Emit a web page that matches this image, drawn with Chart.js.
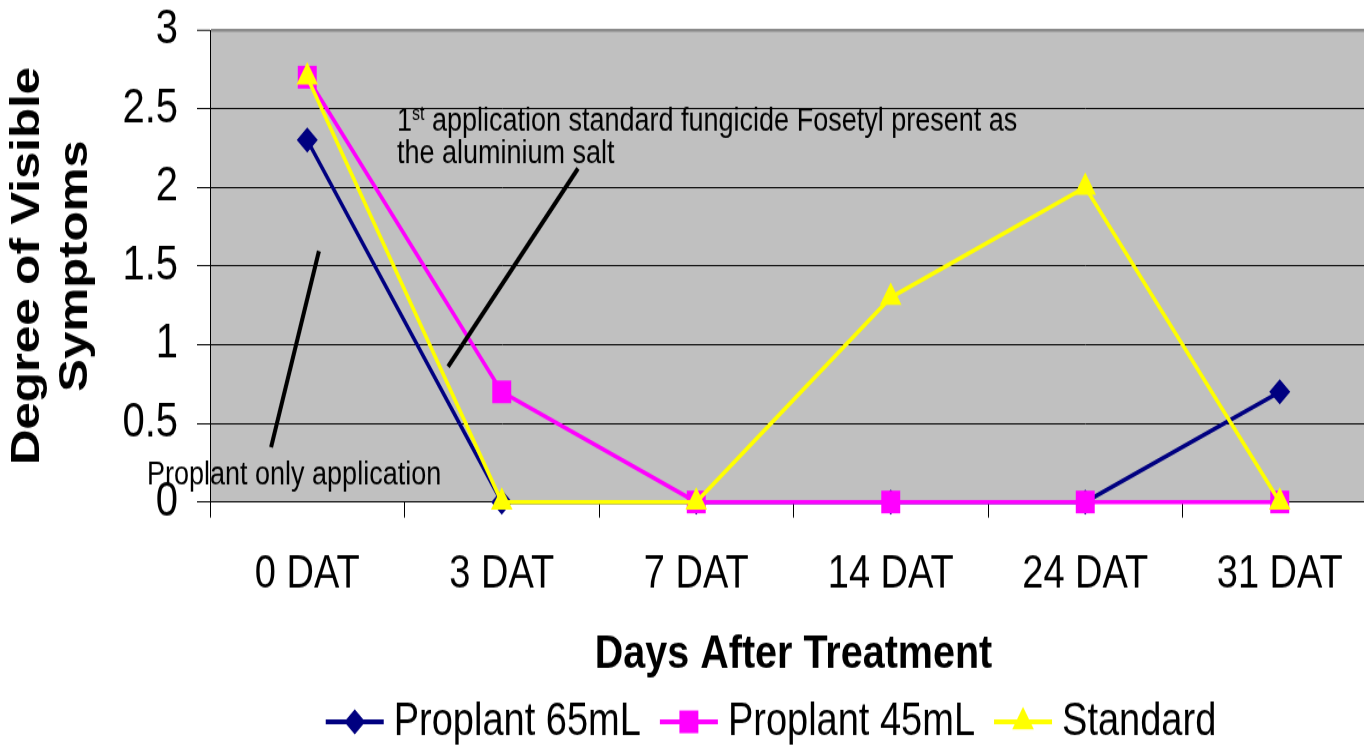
<!DOCTYPE html>
<html><head><meta charset="utf-8">
<script src="https://cdn.jsdelivr.net/npm/chart.js@4.4.1/dist/chart.umd.min.js"></script>
<style>
html,body{margin:0;padding:0;overflow:hidden;background:#fff;width:1364px;height:747px}
#wrap{width:1542px;height:623px;transform:scaleY(1.19904);transform-origin:0 0}
canvas{display:block}
</style>
</head><body><div id="wrap"><canvas id="c" width="1542" height="623"></canvas></div>
<script>
const categories = ['0 DAT', '3 DAT', '7 DAT', '14 DAT', '24 DAT', '31 DAT'];
const proplant65 = [2.3, 0, 0, 0, 0, 0.7];
const proplant45 = [2.7, 0.7, 0, 0, 0, 0];
const standard = [2.7, 0, 0, 1.3, 2.0, 0];
const yTicks = [0, 0.5, 1, 1.5, 2, 2.5, 3];
const seriesNames = ['Proplant 65mL', 'Proplant 45mL', 'Standard'];
const seriesColors = ['#000080', '#FF00FF', '#FFFF00'];
const seriesMarkers = ['rectRot', 'rect', 'triangle'];
const markerRadius = [10.5, 13.4, 12.5];
const xTitle = 'Days After Treatment';
const yTitle = ['Degree of Visible', 'Symptoms'];

// annotations placed in data coordinates (category index, value)
const noteLines = [
  {x1: 0.724, y1: 0.86, x2: 1.392, y2: 2.12},
  {x1: -0.186, y1: 0.348, x2: 0.06, y2: 1.595}
];
const noteTexts = [
  {x: 0.461, y: 2.42, main: '1', sup: 'st', rest: ' application standard fungicide Fosetyl present as'},
  {x: 0.461, y: 2.21, main: 'the aluminium salt'},
  {x: -0.824, y: 0.165, main: 'Proplant only application'}
];

const FONT = "'Liberation Sans', Arial, sans-serif";
Chart.defaults.font.family = FONT;
Chart.defaults.color = '#000';

const seriesData = [proplant65, proplant45, standard];

function drawMarker(ctx, style, x, y, r, color) {
  ctx.save();
  ctx.fillStyle = color;
  ctx.beginPath();
  if (style === 'rectRot') {
    ctx.moveTo(x - r, y); ctx.lineTo(x, y - r); ctx.lineTo(x + r, y); ctx.lineTo(x, y + r);
  } else if (style === 'rect') {
    const s = r * Math.SQRT1_2;
    ctx.rect(x - s, y - s, 2 * s, 2 * s);
  } else {
    const a = 2 * Math.PI / 3;
    ctx.moveTo(x, y - r);
    ctx.lineTo(x + Math.sin(a) * r, y - Math.cos(a) * r);
    ctx.lineTo(x + Math.sin(2 * a) * r, y - Math.cos(2 * a) * r);
  }
  ctx.closePath();
  ctx.fill();
  ctx.restore();
}

const bgPlugin = {
  id: 'bg',
  beforeDraw(chart) {
    const {ctx, chartArea: a} = chart;
    ctx.save();
    ctx.fillStyle = '#C0C0C0';
    ctx.fillRect(a.left, a.top, a.right - a.left, a.bottom - a.top);
    ctx.restore();
  }
};

const notesPlugin = {
  id: 'notes',
  afterDraw(chart) {
    const {ctx} = chart;
    const xs = chart.scales.x, ys = chart.scales.y;
    ctx.save();
    ctx.strokeStyle = '#000';
    ctx.lineWidth = 4;
    ctx.lineCap = 'butt';
    noteLines.forEach(l => {
      ctx.beginPath();
      ctx.moveTo(xs.getPixelForValue(l.x1), ys.getPixelForValue(l.y1));
      ctx.lineTo(xs.getPixelForValue(l.x2), ys.getPixelForValue(l.y2));
      ctx.stroke();
    });
    ctx.fillStyle = '#000';
    ctx.textBaseline = 'middle';
    ctx.textAlign = 'left';
    noteTexts.forEach(t => {
      let x = xs.getPixelForValue(t.x);
      const y = ys.getPixelForValue(t.y);
      ctx.font = '27px ' + FONT;
      ctx.fillText(t.main, x, y);
      x += ctx.measureText(t.main).width;
      if (t.sup) {
        ctx.font = '16px ' + FONT;
        ctx.fillText(t.sup, x, y - 6);
        x += ctx.measureText(t.sup).width;
        ctx.font = '27px ' + FONT;
        ctx.fillText(t.rest, x, y);
      }
    });
    ctx.restore();
  }
};

const legendPlugin = {
  id: 'myLegend',
  afterDraw(chart) {
    const {ctx} = chart;
    const lineW = 58, gapText = 10, gapItem = 19;
    ctx.save();
    ctx.font = '38px ' + FONT;
    const widths = seriesNames.map(n => ctx.measureText(n).width);
    const total = widths.reduce((s, w) => s + lineW + gapText + w, 0) + gapItem * (seriesNames.length - 1);
    let x = chart.width / 2 - total / 2;
    const y = 602;
    ctx.textBaseline = 'middle';
    ctx.textAlign = 'left';
    seriesNames.forEach((n, i) => {
      ctx.strokeStyle = seriesColors[i];
      ctx.lineWidth = 4;
      ctx.beginPath();
      ctx.moveTo(x, y); ctx.lineTo(x + lineW, y); ctx.stroke();
      drawMarker(ctx, seriesMarkers[i], x + lineW / 2, y, markerRadius[i], seriesColors[i]);
      ctx.fillStyle = '#000';
      ctx.fillText(n, x + lineW + gapText, y + 1);
      x += lineW + gapText + widths[i] + gapItem;
    });
    ctx.restore();
  }
};

new Chart(document.getElementById('c'), {
  type: 'line',
  data: {
    labels: categories,
    datasets: seriesNames.map((n, i) => ({
      label: n,
      data: seriesData[i],
      borderColor: seriesColors[i],
      backgroundColor: seriesColors[i],
      borderWidth: 3.5,
      tension: 0,
      pointStyle: seriesMarkers[i],
      pointRadius: markerRadius[i],
      pointHoverRadius: markerRadius[i],
      pointBorderWidth: 0,
      pointBackgroundColor: seriesColors[i],
      clip: false,
      order: 3 - i
    }))
  },
  options: {
    responsive: false,
    animation: false,
    events: [],
    layout: {padding: {left: 0, top: 23.35, right: 165, bottom: 58.9}},
    plugins: {legend: {display: false}, tooltip: {enabled: false}, title: {display: false}},
    scales: {
      x: {
        type: 'category',
        offset: true,
        grid: {offset: true, drawOnChartArea: false, drawTicks: true, tickLength: 13, color: '#000', lineWidth: 1},
        border: {display: true, color: '#000', width: 1},
        ticks: {font: {size: 38, lineHeight: 1.0}, color: '#000', padding: 28.9, maxRotation: 0, autoSkip: false},
        title: {display: true, text: xTitle, color: '#000', font: {size: 39.5, weight: 'bold', lineHeight: 0.9}, padding: {top: 1.1, bottom: 0}}
      },
      y: {
        min: 0, max: 3,
        afterBuildTicks(scale) { scale.ticks = yTicks.map(v => ({value: v})); },
        grid: {
          drawTicks: true, tickLength: 13,
          color: c => (c.tick && c.tick.value === 3) ? '#8a8a8a' : '#000',
          lineWidth: c => (c.tick && c.tick.value === 3) ? 2.5 : 1,
          tickColor: '#000', tickWidth: 1
        },
        border: {display: true, color: '#000', width: 1},
        ticks: {font: {size: 40, lineHeight: 0.3}, color: '#000', padding: 19, callback: v => String(v)},
        title: {display: true, text: yTitle, color: '#000', font: {size: 41, weight: 'bold', lineHeight: 48 / 41}, padding: {top: 4, bottom: 3.4}}
      }
    }
  },
  plugins: [bgPlugin, notesPlugin, legendPlugin]
});
</script>
</body></html>
